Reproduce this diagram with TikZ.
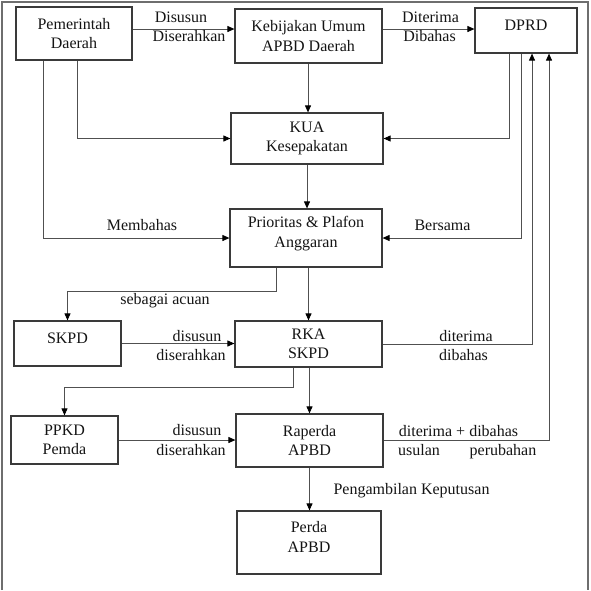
\documentclass[tikz,border=0pt]{standalone}
\usepackage{fontspec}
\setmainfont{Liberation Serif}
\usetikzlibrary{arrows.meta}
\definecolor{boxc}{HTML}{3A3A3A}
\definecolor{linec}{HTML}{505050}
\definecolor{framec}{HTML}{6E6E6E}
\definecolor{txtc}{HTML}{141414}
\begin{document}
\begin{tikzpicture}[x=1pt,y=-1pt,
  fnt/.style={font=\fontsize{16}{19.5}\selectfont},
  box/.style={draw=boxc, line width=1.2pt, fill=white, inner sep=0pt, align=center, text=txtc, fnt},
  bt/.style={text=txtc, fnt, inner sep=0pt, align=center},
  lbl/.style={text=txtc, fnt, inner sep=0pt, anchor=base},
  arr/.style={draw=linec, line width=0.9pt, -{Triangle[length=7pt,width=6pt,color=black]}},
  ln/.style={draw=linec, line width=0.9pt}]
\useasboundingbox (0,0) rectangle (591,590);
% outer frame
\draw[framec, line width=2pt] (2,590) -- (2,2) -- (588,2) -- (588,590);

% boxes
\node[box, minimum width=116pt, minimum height=53pt] (pd) at (74,33.5) {Pemerintah\\Daerah};
\node[box, minimum width=147pt, minimum height=54pt] (ku) at (308.5,36) {Kebijakan Umum\\APBD Daerah};
\node[box, minimum width=102pt, minimum height=45pt,
  label={[bt,name=dprdt,yshift=5.2pt]center:DPRD}] (dprd) at (526,30.5) {};
\node[box, minimum width=152pt, minimum height=51pt] (kua) at (307,138.5) {KUA\\Kesepakatan};
\node[box, minimum width=152pt, minimum height=58pt,
  label={[bt,name=ppt,yshift=4.4pt]center:Prioritas \& Plafon\\Anggaran}] (pp) at (306,238) {};
\node[box, minimum width=107pt, minimum height=45pt,
  label={[bt,name=skpdt,yshift=5.2pt]center:SKPD}] (skpd) at (67.5,343.5) {};
\node[box, minimum width=147pt, minimum height=46pt] (rka) at (308.5,344) {RKA\\SKPD};
\node[box, minimum width=107pt, minimum height=48pt] (ppkd) at (64.5,440) {PPKD\\Pemda};
\node[box, minimum width=147pt, minimum height=53pt] (rap) at (309.5,440.5) {Raperda\\APBD};
\node[box, minimum width=144pt, minimum height=63pt,
  label={[bt,name=perdat,yshift=5.5pt]center:Perda\\APBD}] (perda) at (309,542.5) {};

% helper coordinates
\coordinate (h29) at (0,29);
\coordinate (h291) at (0,291);
\coordinate (h387) at (0,387);
\coordinate (v43) at (43,0);
\coordinate (v77) at (77,0);
\coordinate (v276) at (276,0);
\coordinate (v293) at (293,0);
\coordinate (v509) at (509,0);
\coordinate (v521) at (521,0);
\coordinate (v532) at (532,0);
\coordinate (v549) at (549,0);

% connectors
\draw[arr] (pd.east |- h29) -- (ku.west |- h29);
\draw[arr] (ku.east |- h29) -- (dprd.west |- h29);
\draw[arr] (pd.south -| v43) |- (pp.west);
\draw[arr] (pd.south -| v77) |- (kua.west);
\draw[arr] (ku.south -| kua.north) ++(1,0) coordinate (kutop) -- (kutop |- kua.north);
\draw[arr] (dprd.south -| v509) |- (kua.east);
\draw[arr] (dprd.south -| v521) |- (pp.east);
\draw[arr] (rka.east) -| (dprd.south -| v532);
\draw[arr] (rap.east) -| (dprd.south -| v549);
\draw[arr] (kua.south) -- (kua.south |- pp.north);
\draw[arr] (rka.north |- pp.south) -- (rka.north);
\draw[arr] (pp.south -| v276) |- (skpd.north |- h291) -- (skpd.north);
\draw[arr] (skpd.east) -- (rka.west |- skpd.east);
\draw[arr] (rka.south -| v293) |- (ppkd.north |- h387) -- (ppkd.north);
\draw[arr] (rap.north |- rka.south) -- (rap.north);
\draw[arr] (ppkd.east) -- (rap.west |- ppkd.east);
\draw[arr] (rap.south) -- (rap.south |- perda.north);

% connector labels
\node[lbl] (l1a) at (181,22.5) {Disusun};
\node[lbl] (l1b) at (189,41.5) {Diserahkan};
\node[lbl] (l2a) at (430.5,22.5) {Diterima};
\node[lbl] (l2b) at (429.5,41) {Dibahas};
\node[lbl] (l3) at (142,230) {Membahas};
\node[lbl] (l4) at (442.5,230) {Bersama};
\node[lbl] (l5) at (165,304) {sebagai acuan};
\node[lbl] (l6a) at (197,341.7) {disusun};
\node[lbl] (l6b) at (191,360.3) {diserahkan};
\node[lbl] (l7a) at (466,341.7) {diterima};
\node[lbl] (l7b) at (463.5,360.5) {dibahas};
\node[lbl] (l8a) at (197,435.7) {disusun};
\node[lbl] (l8b) at (191,455) {diserahkan};
\node[lbl] (l9a) at (458.5,436) {diterima + dibahas};
\node[lbl] (l9b) at (419,455) {usulan};
\node[lbl] (l9c) at (503,455) {perubahan};
\node[lbl] (l10) at (411.5,494.3) {Pengambilan Keputusan};
\end{tikzpicture}
\end{document}
